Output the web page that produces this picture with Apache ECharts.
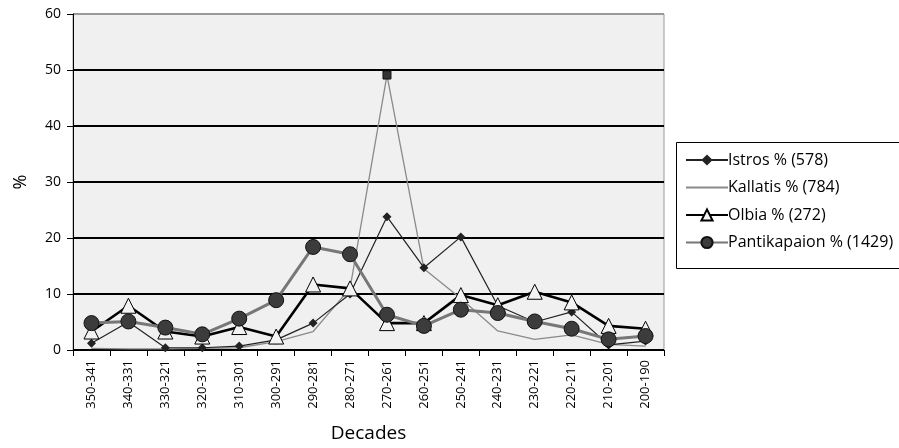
<!DOCTYPE html>
<html>
<head>
<meta charset="utf-8">
<script src="https://cdn.jsdelivr.net/npm/echarts@6/dist/echarts.min.js"></script>
<style>
  html, body { margin: 0; padding: 0; background: #fff; }
  #main { width: 899px; height: 448px; }
</style>
</head>
<body>
<div id="main"></div>
<script type="text/javascript">
    // decades (BC)
    var decades = ['350-341', '340-331', '330-321', '320-311', '310-301', '300-291', '290-281', '280-271',
        '270-261', '260-251', '250-241', '240-231', '230-221', '220-211', '210-201', '200-190'];
    // shares in %
    var istros = [1.2, 5.0, 0.4, 0.4, 0.7, 1.8, 4.8, 10.0, 23.8, 14.7, 20.2, 7.9, 5.0, 6.8, 0.9, 1.6];
    var kallatis = [0.3, 0.2, 0.2, 0.3, 0.4, 1.5, 3.3, 11.0, 49.1, 14.5, 9.2, 3.4, 1.9, 2.7, 1.0, 0.7];
    var olbia = [3.3, 7.9, 3.3, 2.4, 4.1, 2.4, 11.7, 11.0, 4.8, 4.8, 9.8, 8.0, 10.4, 8.5, 4.3, 3.8];
    var pantikapaion = [4.8, 5.1, 4.0, 2.8, 5.6, 8.9, 18.4, 17.1, 6.3, 4.3, 7.2, 6.6, 5.1, 3.8, 1.9, 2.5];
    var yTicks = [0, 10, 20, 30, 40, 50, 60];

    var font = '"Open Sans", "Noto Sans", sans-serif';
    var myChart = echarts.init(document.getElementById('main'));

    // kallatis has only one marker, at its peak
    var kMax = Math.max.apply(null, kallatis);
    var kallatisData = kallatis.map(function (v) {
        return v === kMax ? { value: v, symbol: 'rect', symbolSize: 8 } : v;
    });

    var option = {
        animation: false,
        textStyle: { fontFamily: font },
        graphic: [{
            type: 'rect',
            shape: { x: 676.5, y: 142.5, width: 230, height: 126 },
            style: { fill: '#fff', stroke: '#000', lineWidth: 1 }
        }],
        grid: {
            left: 73, right: 235, top: 14, bottom: 91,
            show: true, backgroundColor: '#f0f0f0', borderColor: '#999', borderWidth: 1
        },
        legend: {
            orient: 'vertical',
            left: 680, top: 147,
            itemWidth: 42, itemHeight: 14, itemGap: 11.5,
            data: [
                { name: 'Istros % (578)' },
                { name: 'Kallatis % (784)', itemStyle: { opacity: 0 } },
                { name: 'Olbia % (272)' },
                { name: 'Pantikapaion % (1429)' }
            ],
            textStyle: { fontFamily: font, fontSize: 16, color: '#000', padding: [0, 0, 0, -5] }
        },
        xAxis: {
            type: 'category',
            data: decades,
            boundaryGap: true,
            name: 'Decades',
            nameLocation: 'middle',
            nameGap: 74,
            nameTextStyle: { fontFamily: font, fontSize: 19, color: '#000' },
            axisLine: { lineStyle: { color: '#000', width: 1 } },
            axisTick: { show: true, length: 6, lineStyle: { color: '#000' } },
            axisLabel: { rotate: 90, fontSize: 13, color: '#000', margin: 10 },
            splitLine: { show: false }
        },
        yAxis: {
            type: 'value',
            min: yTicks[0], max: yTicks[yTicks.length - 1], interval: 10,
            name: '%',
            nameLocation: 'middle',
            nameGap: 43,
            nameRotate: 90,
            nameTextStyle: { fontFamily: font, fontSize: 18, color: '#000' },
            axisLine: { show: true, lineStyle: { color: '#000', width: 1 } },
            axisTick: { show: true, length: 6, lineStyle: { color: '#000' } },
            axisLabel: { fontSize: 14, color: '#000', margin: 12 },
            splitLine: {
                show: true,
                lineStyle: { color: ['#000', '#000', '#000', '#000', '#000', '#000', '#999'], width: 1.8 }
            }
        },
        series: [
            {
                name: 'Kallatis % (784)',
                type: 'line',
                data: kallatisData,
                symbol: 'none',
                itemStyle: { color: '#333', borderColor: '#111', borderWidth: 1 },
                lineStyle: { color: '#8a8a8a', width: 1.3 },
                z: 2
            },
            {
                name: 'Istros % (578)',
                type: 'line',
                data: istros,
                symbol: 'diamond',
                symbolSize: 9,
                itemStyle: { color: '#222', borderColor: '#222', borderWidth: 0 },
                lineStyle: { color: '#222', width: 1.2 },
                z: 3
            },
            {
                name: 'Olbia % (272)',
                type: 'line',
                data: olbia,
                symbol: 'triangle',
                symbolSize: 15,
                itemStyle: { color: '#f2f2f2', borderColor: '#000', borderWidth: 1 },
                lineStyle: { color: '#000', width: 2.6 },
                z: 4
            },
            {
                name: 'Pantikapaion % (1429)',
                type: 'line',
                data: pantikapaion,
                symbol: 'circle',
                symbolSize: 15,
                itemStyle: { color: '#3c3c3c', borderColor: '#111', borderWidth: 1 },
                lineStyle: { color: '#777', width: 3 },
                z: 5
            }
        ]
    };

    myChart.setOption(option);
</script>
</body>
</html>
